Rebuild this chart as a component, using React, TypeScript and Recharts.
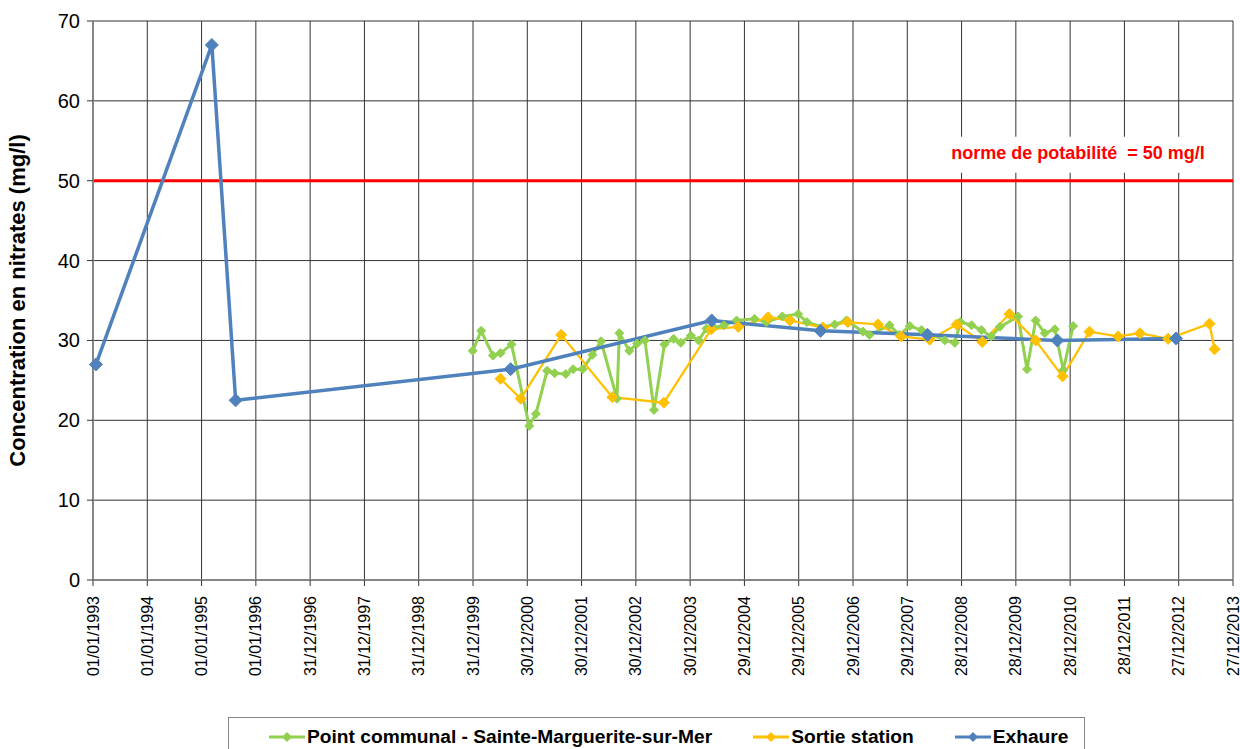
import { LineChart, Line, XAxis, YAxis, CartesianGrid, ReferenceLine } from 'recharts';

// x axis tick labels (Excel date axis, one major unit = 365 days)
const tickLabels = [
  '01/01/1993', '01/01/1994', '01/01/1995', '01/01/1996', '31/12/1996', '31/12/1997',
  '31/12/1998', '31/12/1999', '30/12/2000', '30/12/2001', '30/12/2002', '30/12/2003',
  '29/12/2004', '29/12/2005', '29/12/2006', '29/12/2007', '28/12/2008', '28/12/2009',
  '28/12/2010', '28/12/2011', '27/12/2012', '27/12/2013',
];
const yTicks = [0, 10, 20, 30, 40, 50, 60, 70];
const norme = 50;

// Point communal - Sainte-Marguerite-sur-Mer
const communalDates = [
  '1999-12-29', '2000-02-24', '2000-05-13', '2000-07-03', '2000-09-15', '2001-01-12',
  '2001-02-26', '2001-05-12', '2001-07-02', '2001-09-15', '2001-11-03', '2002-01-06',
  '2002-03-13', '2002-05-10', '2002-08-25', '2002-09-10', '2002-11-16', '2003-01-08',
  '2003-03-01', '2003-05-01', '2003-07-10', '2003-09-10', '2003-10-28', '2004-01-04',
  '2004-02-25', '2004-04-18', '2004-06-08', '2004-08-13', '2004-11-06', '2005-03-07',
  '2005-05-25', '2005-09-10', '2005-12-25', '2006-02-22', '2006-06-06', '2006-08-28',
  '2006-11-15', '2007-03-06', '2007-04-19', '2007-09-01', '2007-11-06', '2008-01-15',
  '2008-04-03', '2008-09-06', '2008-11-12', '2008-12-20', '2009-03-05', '2009-05-10',
  '2009-07-15', '2009-09-12', '2010-01-12', '2010-03-13', '2010-05-10', '2010-07-10',
  '2010-09-16', '2010-11-12', '2011-01-17',
];
const communalValues = [
  28.7, 31.2, 28.1, 28.4, 29.5, 19.3,
  20.8, 26.2, 25.9, 25.8, 26.4, 26.4,
  28.2, 29.9, 22.7, 30.9, 28.7, 29.6,
  30.0, 21.3, 29.5, 30.2, 29.7, 30.6,
  30.0, 31.5, 31.6, 31.9, 32.5, 32.7,
  32.3, 33.0, 33.3, 32.3, 31.7, 32.0,
  32.5, 31.1, 30.7, 31.9, 30.7, 31.8,
  31.3, 30.0, 29.7, 32.3, 31.9, 31.3,
  30.5, 31.7, 33.0, 26.4, 32.5, 30.9,
  31.4, 26.3, 31.8,
];

// Sortie station
const sortieDates = [
  '2000-07-03', '2000-11-16', '2001-08-15', '2002-07-25', '2003-07-06', '2004-05-20',
  '2004-11-18', '2005-06-06', '2005-10-31', '2006-06-10', '2006-11-24', '2007-06-15',
  '2007-11-18', '2008-05-28', '2008-11-25', '2009-05-16', '2009-11-15', '2010-05-10',
  '2010-11-07', '2011-05-07', '2011-11-16', '2012-04-10', '2012-10-16', '2013-07-22',
  '2013-08-25',
];
const sortieValues = [
  25.2, 22.7, 30.7, 22.9, 22.2, 31.4,
  31.7, 32.9, 32.5, 31.6, 32.3, 32.0,
  30.5, 30.1, 32.0, 29.8, 33.3, 30.0,
  25.5, 31.1, 30.5, 30.9, 30.2, 32.1,
  28.9,
];

// Exhaure
const exhaureDates = [
  '1993-01-21', '1995-03-11', '1995-08-18', '2000-09-09', '2004-05-23', '2006-05-25',
  '2008-05-13', '2010-10-03', '2012-12-09',
];
const exhaureValues = [27.0, 67.0, 22.5, 26.4, 32.5, 31.2, 30.7, 30.0, 30.25];

const isoToTime = (s: string) => {
  const [y, m, d] = s.split('-').map(Number);
  return Date.UTC(y, m - 1, d);
};
const labelToTime = (s: string) => {
  const [d, m, y] = s.split('/').map(Number);
  return Date.UTC(y, m - 1, d);
};

const build = (dates: string[], values: number[]) =>
  dates.map((d, i) => ({ t: isoToTime(d), v: values[i] }));

const communalData = build(communalDates, communalValues);
const sortieData = build(sortieDates, sortieValues);
const exhaureData = build(exhaureDates, exhaureValues);

const xTicks = tickLabels.map(labelToTime);
const labelFor = (t: number) => tickLabels[xTicks.indexOf(t)] ?? '';

const FONT = '"Liberation Sans", Arial, sans-serif';

const Diamond = (r: number, fill: string) => (props: any) => {
  const { cx, cy } = props;
  if (cx == null || cy == null) return null;
  return (
    <path
      d={`M${cx},${cy - r}L${cx + r},${cy}L${cx},${cy + r}L${cx - r},${cy}Z`}
      fill={fill}
      stroke={fill}
      strokeWidth={1}
    />
  );
};

const XTick = (props: any) => {
  const { x, y, payload } = props;
  return (
    <text
      transform={`translate(${x + 5.5},${y + 8}) rotate(-90)`}
      textAnchor="end"
      fontSize={16}
      fontFamily={FONT}
      fill="#000"
    >
      {labelFor(payload.value)}
    </text>
  );
};

const YTick = (props: any) => {
  const { x, y, payload } = props;
  return (
    <text x={x - 5} y={y + 7} textAnchor="end" fontSize={20} fontFamily={FONT} fill="#000">
      {payload.value}
    </text>
  );
};

const YTitle = (props: any) => {
  const vb = props.viewBox;
  return (
    <text
      transform={`translate(${vb.x - 8},${vb.y + vb.height / 2}) rotate(-90)`}
      textAnchor="middle"
      fontSize={22}
      fontWeight="bold"
      fontFamily={FONT}
      fill="#000"
    >
      Concentration en nitrates (mg/l)
    </text>
  );
};

const NormeLabel = (props: any) => {
  const vb = props.viewBox;
  const cx = vb.x + vb.width - 155;
  const cy = vb.y - 28;
  return (
    <g>
      <rect x={cx - 140} y={cy - 16} width={280} height={36} fill="#fff" />
      <text
        x={cx}
        y={cy + 6}
        textAnchor="middle"
        fontSize={18}
        fontWeight="bold"
        fontFamily={FONT}
        fill="#FF0000"
      >
        norme de potabilité&#160; = 50 mg/l
      </text>
    </g>
  );
};

const legendItems = [
  { name: 'Point communal - Sainte-Marguerite-sur-Mer', color: '#92D050' },
  { name: 'Sortie station', color: '#FFC000' },
  { name: 'Exhaure', color: '#4F81BD' },
];

export default function App() {
  return (
    <div style={{ position: 'absolute', left: 0, top: 0, width: 1240, height: 749, background: '#fff', overflow: 'hidden' }}>
      <LineChart width={1240} height={749} margin={{ top: 21, right: 7, bottom: 69, left: 33 }}>
        <CartesianGrid stroke="#333" strokeWidth={1} />
        <XAxis
          type="number"
          dataKey="t"
          domain={[xTicks[0], xTicks[xTicks.length - 1]]}
          ticks={xTicks}
          interval={0}
          height={100}
          tick={<XTick />}
          axisLine={{ stroke: '#868686', strokeWidth: 2 }}
          tickLine={{ stroke: '#333' }}
          tickSize={6}
          allowDuplicatedCategory={false}
        />
        <YAxis
          type="number"
          domain={[0, 70]}
          ticks={yTicks}
          interval={0}
          width={60}
          tick={<YTick />}
          axisLine={{ stroke: '#868686', strokeWidth: 2 }}
          tickLine={{ stroke: '#333' }}
          tickSize={6}
          label={<YTitle />}
        />
        <ReferenceLine y={norme} stroke="#FF0000" strokeWidth={3} label={<NormeLabel />} ifOverflow="extendDomain" />
        <Line
          data={communalData}
          dataKey="v"
          stroke="#92D050"
          strokeWidth={3}
          dot={Diamond(4.5, '#92D050')}
          activeDot={false}
          isAnimationActive={false}
        />
        <Line
          data={sortieData}
          dataKey="v"
          stroke="#FFC000"
          strokeWidth={2.25}
          dot={Diamond(5.5, '#FFC000')}
          activeDot={false}
          isAnimationActive={false}
        />
        <Line
          data={exhaureData}
          dataKey="v"
          stroke="#4F81BD"
          strokeWidth={3.5}
          dot={Diamond(6.5, '#4F81BD')}
          activeDot={false}
          isAnimationActive={false}
        />
      </LineChart>
      <div
        style={{
          position: 'absolute',
          left: 228,
          top: 717,
          width: 857,
          height: 40,
          border: '1px solid #868686',
          boxSizing: 'border-box',
          display: 'flex',
          alignItems: 'center',
          justifyContent: 'flex-start',
          paddingLeft: 40,
          fontFamily: FONT,
          fontWeight: 'bold',
          fontSize: 19.2,
          background: '#fff',
        }}
      >
        {legendItems.map((it, i) => (
          <div key={it.name} style={{ display: 'flex', alignItems: 'center', marginLeft: i === 0 ? 0 : 41 }}>
            <svg width={36} height={12} style={{ marginRight: 2 }}>
              <line x1={0} y1={6} x2={36} y2={6} stroke={it.color} strokeWidth={3} />
              <path d="M18,1L23,6L18,11L13,6Z" fill={it.color} />
            </svg>
            <span>{it.name}</span>
          </div>
        ))}
      </div>
    </div>
  );
}
